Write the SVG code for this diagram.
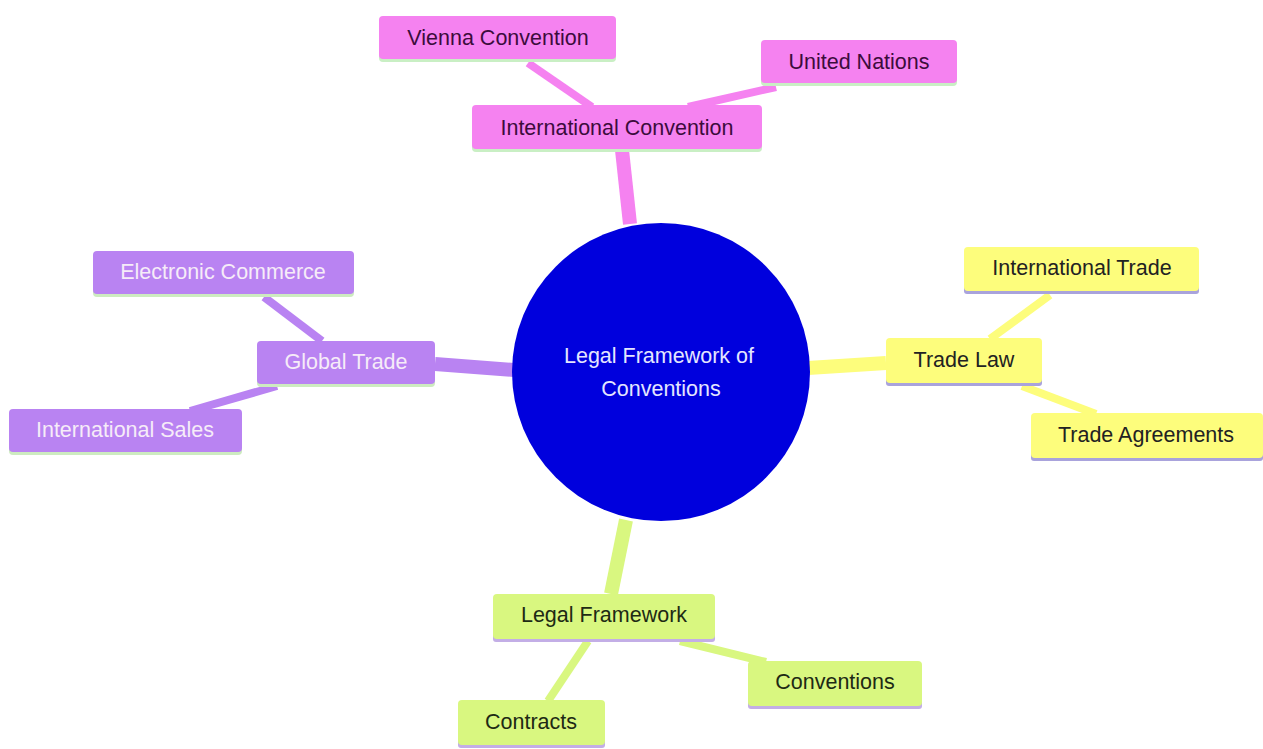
<svg xmlns="http://www.w3.org/2000/svg" width="1263" height="749" viewBox="0 0 1263 749">
<style>
text{font-family:"Liberation Sans",Arial,sans-serif;font-size:21.5px;text-anchor:middle}
.pk{fill:#f582f0}.pu{fill:#b983f2}.ye{fill:#fdfd7c}.gr{fill:#d9f780}
.bpk{fill:#c9efc4}.bpu{fill:#cdebc0}.bye{fill:#a9a3dc}.bgr{fill:#c3aee6}
.tpk{fill:#3c0c3c}.tpu{fill:#f6ecf8}.tye{fill:#222222}.tgr{fill:#1e2a14}
.e{fill:none;stroke-linecap:butt}
</style>
<rect width="1263" height="749" fill="#ffffff"/>
<g id="connectors">
<line class="e" x1="630" y1="224" x2="622" y2="150" stroke="#f582f0" stroke-width="14"/>
<line class="e" x1="528" y1="63" x2="592" y2="107" stroke="#f582f0" stroke-width="8"/>
<line class="e" x1="776" y1="87" x2="688" y2="107" stroke="#f582f0" stroke-width="8"/>
<line class="e" x1="514" y1="370" x2="435" y2="364" stroke="#b983f2" stroke-width="14"/>
<line class="e" x1="264" y1="297" x2="322" y2="341" stroke="#b983f2" stroke-width="8"/>
<line class="e" x1="277" y1="386" x2="190" y2="411" stroke="#b983f2" stroke-width="8"/>
<line class="e" x1="808" y1="368" x2="886" y2="363" stroke="#fdfd7c" stroke-width="14"/>
<line class="e" x1="1050" y1="295" x2="990" y2="339" stroke="#fdfd7c" stroke-width="8"/>
<line class="e" x1="1022" y1="386" x2="1096" y2="414" stroke="#fdfd7c" stroke-width="8"/>
<line class="e" x1="626" y1="520" x2="611" y2="594" stroke="#d9f780" stroke-width="14"/>
<line class="e" x1="588" y1="641" x2="548" y2="701" stroke="#d9f780" stroke-width="8"/>
<line class="e" x1="680" y1="641" x2="766" y2="662" stroke="#d9f780" stroke-width="8"/>
</g>
<g id="root">
<circle cx="661" cy="372" r="149" fill="#0000dd"/>
<text x="659" y="363" fill="#e4e6ff">Legal Framework of</text>
<text x="661" y="396" fill="#e4e6ff">Conventions</text>
</g>
<g id="international-convention">
<rect class="bpk" x="472" y="108" width="290" height="44" rx="4"/>
<rect class="pk" x="472" y="105" width="290" height="44" rx="4"/>
<text class="tpk" x="617" y="135">International Convention</text>
</g>
<g id="vienna-convention">
<rect class="bpk" x="379" y="19" width="237" height="43" rx="4"/>
<rect class="pk" x="379" y="16" width="237" height="43" rx="4"/>
<text class="tpk" x="498" y="45">Vienna Convention</text>
</g>
<g id="united-nations">
<rect class="bpk" x="761" y="43" width="196" height="43" rx="4"/>
<rect class="pk" x="761" y="40" width="196" height="43" rx="4"/>
<text class="tpk" x="859" y="69">United Nations</text>
</g>
<g id="global-trade">
<rect class="bpu" x="257" y="344" width="178" height="43" rx="4"/>
<rect class="pu" x="257" y="341" width="178" height="43" rx="4"/>
<text class="tpu" x="346" y="369">Global Trade</text>
</g>
<g id="electronic-commerce">
<rect class="bpu" x="93" y="254" width="261" height="43" rx="4"/>
<rect class="pu" x="93" y="251" width="261" height="43" rx="4"/>
<text class="tpu" x="223" y="279">Electronic Commerce</text>
</g>
<g id="international-sales">
<rect class="bpu" x="9" y="412" width="233" height="43" rx="4"/>
<rect class="pu" x="9" y="409" width="233" height="43" rx="4"/>
<text class="tpu" x="125" y="437">International Sales</text>
</g>
<g id="trade-law">
<rect class="bye" x="886" y="341" width="156" height="45" rx="3"/>
<rect class="ye" x="886" y="338" width="156" height="45" rx="4"/>
<text class="tye" x="964" y="367">Trade Law</text>
</g>
<g id="international-trade">
<rect class="bye" x="964" y="250" width="235" height="44" rx="3"/>
<rect class="ye" x="964" y="247" width="235" height="44" rx="4"/>
<text class="tye" x="1082" y="275">International Trade</text>
</g>
<g id="trade-agreements">
<rect class="bye" x="1031" y="416" width="232" height="45" rx="3"/>
<rect class="ye" x="1031" y="413" width="232" height="45" rx="4"/>
<text class="tye" x="1146" y="442">Trade Agreements</text>
</g>
<g id="legal-framework">
<rect class="bgr" x="493" y="597" width="222" height="45" rx="3"/>
<rect class="gr" x="493" y="594" width="222" height="45" rx="4"/>
<text class="tgr" x="604" y="622">Legal Framework</text>
</g>
<g id="conventions">
<rect class="bgr" x="748" y="664" width="174" height="45" rx="3"/>
<rect class="gr" x="748" y="661" width="174" height="45" rx="4"/>
<text class="tgr" x="835" y="689">Conventions</text>
</g>
<g id="contracts">
<rect class="bgr" x="458" y="703" width="147" height="45" rx="3"/>
<rect class="gr" x="458" y="700" width="147" height="45" rx="4"/>
<text class="tgr" x="531" y="729">Contracts</text>
</g>
</svg>
